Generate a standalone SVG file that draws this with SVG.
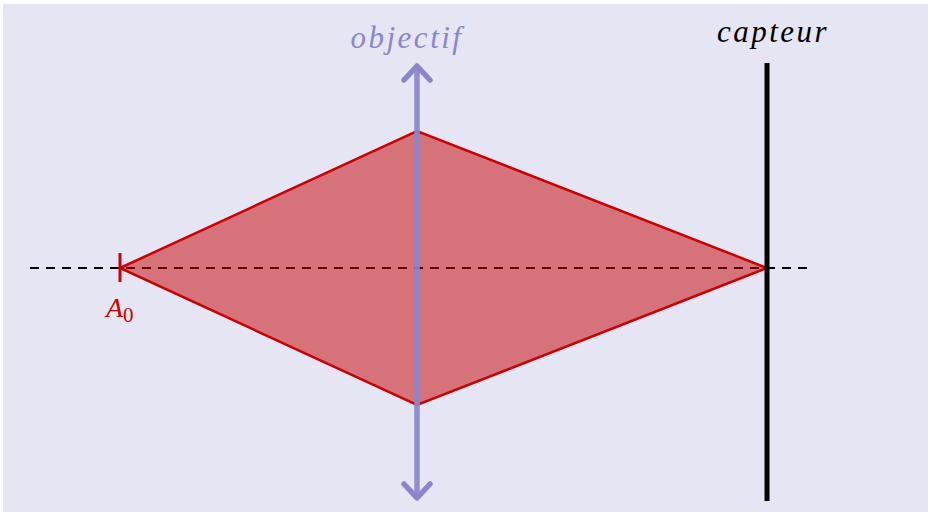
<svg xmlns="http://www.w3.org/2000/svg" width="928" height="512" viewBox="0 0 928 512">
<style>
.lbl{font-family:"Liberation Serif","DejaVu Serif",serif;font-style:italic;font-size:31px;letter-spacing:2.5px}
.chev{fill:none;stroke:#8A86CC;stroke-width:5.5;stroke-linecap:round;stroke-linejoin:round}
</style>
<rect x="3" y="4" width="925" height="508" fill="#E6E5F4"/>
<g id="connectors">
<line x1="30" y1="268" x2="808" y2="268" stroke="#000" stroke-width="2" stroke-dasharray="9,7"/>
</g>
<g id="beam">
<polygon points="120,268 417,131 767,268 417,405" fill="#C40000" fill-opacity="0.5" stroke="#CC0000" stroke-width="2.5" stroke-linejoin="miter"/>
</g>
<g id="A0">
<line x1="120" y1="253" x2="120" y2="282" stroke="#CC0000" stroke-width="3"/>
<text x="106" y="317" fill="#CC0000" font-family="Liberation Serif, DejaVu Serif, serif" font-style="italic" font-size="28">A<tspan font-style="normal" font-size="21" dy="5">0</tspan></text>
</g>
<g id="objectif">
<line x1="417" y1="68" x2="417" y2="496" stroke="#8A86CC" stroke-width="5.5" stroke-opacity="0.92"/>
<path class="chev" d="M404,80 L417,66 L430,80"/>
<path class="chev" d="M404,484 L417,498 L430,484"/>
<text x="407" y="48" class="lbl" fill="#8A86CC" text-anchor="middle">objectif</text>
</g>
<g id="capteur">
<line x1="767" y1="63" x2="767" y2="501" stroke="#000" stroke-width="5"/>
<text x="773" y="42" class="lbl" fill="#000" text-anchor="middle">capteur</text>
</g>
</svg>
